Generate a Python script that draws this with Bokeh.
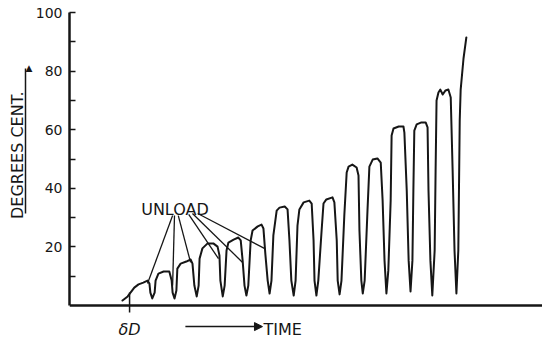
from bokeh.plotting import figure
from bokeh.models import FixedTicker, Label, Arrow, NormalHead, Range1d, LinearAxis
from bokeh.embed import file_html
from bokeh.resources import INLINE

# Temperature trace (time in arbitrary units, temperature in degrees C)
time = [11.2, 12.3, 13.1, 13.7, 14.6, 15.6, 16.5, 16.9, 17.1, 17.5, 18.0, 18.2, 18.8, 19.9, 21.1,
        21.6, 21.8, 22.2, 22.6, 22.8, 23.5, 24.7, 25.6, 26.0, 26.4, 26.9, 27.3, 27.5, 28.1, 29.2,
        30.4, 31.3, 31.7, 31.9, 32.4, 32.8, 33.2, 33.6, 34.7, 35.7, 36.2, 36.6, 37.0, 37.4, 37.8,
        38.3, 38.7, 39.8, 40.6, 41.0, 41.4, 41.9, 42.3, 42.7, 43.1, 43.8, 44.4, 45.5, 46.1, 46.5,
        46.9, 47.4, 47.8, 48.2, 48.6, 49.5, 50.7, 51.2, 51.6, 51.8, 52.2, 52.6, 53.3, 53.7, 54.3,
        55.6, 56.0, 56.5, 56.7, 57.1, 57.5, 58.1, 58.6, 59.0, 59.8, 60.7, 61.1, 61.3, 61.7, 62.0,
        62.4, 63.0, 63.4, 64.1, 65.1, 65.8, 66.2, 66.6, 67.0, 67.4, 67.9, 68.1, 68.5, 69.6, 70.6,
        70.8, 71.3, 71.7, 72.1, 72.5, 72.7, 72.9, 73.4, 74.4, 75.3, 75.7, 75.9, 76.3, 76.7, 77.2,
        77.4, 77.6, 78.0, 78.4, 78.9, 79.5, 80.1, 80.6, 81.0, 81.4, 81.8, 82.2, 82.5, 82.7, 83.3,
        83.9]
temp = [1.7, 3.1, 4.8, 6.1, 7.2, 7.8, 8.5, 7.5, 4.4, 2.4, 4.4, 8.5, 10.9, 11.6, 11.6,
        8.5, 4.4, 2.4, 5.1, 12.6, 14.3, 15.0, 15.7, 14.3, 6.8, 3.1, 6.8, 16.0, 19.5, 21.2,
        21.2, 20.1, 17.1, 8.5, 3.1, 6.8, 18.8, 21.5, 22.5, 23.2, 22.2, 15.4, 6.8, 3.4, 6.8,
        22.2, 25.6, 27.0, 27.6, 26.3, 17.7, 8.5, 4.1, 8.5, 23.9, 32.4, 33.4, 33.8, 32.8, 22.2,
        8.5, 3.4, 8.5, 27.3, 32.8, 35.2, 35.8, 34.8, 22.2, 8.5, 3.4, 8.5, 25.6, 34.8, 36.2,
        36.9, 35.2, 22.2, 8.5, 3.8, 8.5, 30.7, 45.4, 47.4, 48.1, 47.1, 44.4, 25.6, 8.5, 4.1,
        8.5, 32.4, 47.4, 49.8, 50.2, 48.8, 35.8, 15.4, 4.1, 11.9, 35.8, 58.0, 60.4, 61.1, 61.1,
        59.0, 39.2, 15.4, 4.8, 15.4, 39.2, 59.7, 61.8, 62.5, 62.5, 60.8, 39.2, 15.4, 3.4, 18.8,
        46.1, 70.0, 72.7, 73.7, 72.0, 73.4, 73.7, 71.0, 46.1, 18.8, 4.1, 18.8, 63.1, 73.7, 84.3,
        91.5]

# "UNLOAD" leader lines: from label to the curve
unload_x0 = [21.8, 22.2, 23.0, 25.2, 26.0, 27.1]
unload_y0 = [30.7, 30.7, 30.7, 31.1, 31.4, 31.4]
unload_x1 = [16.5, 21.8, 25.6, 31.5, 36.6, 41.2]
unload_y1 = [7.5, 6.8, 14.7, 16.0, 14.7, 19.5]

y_major = [20, 40, 60, 80, 100]
y_minor = [10, 30, 50, 70, 90]

t_delta = 12.7          # time of delta-D mark
arrow_y = (31.4, 80.9)  # extent of the arrow beside the y-axis title
time_arrow = (24.5, 40.8)

INK = "#161616"
FONT = "DejaVu Sans"

p = figure(width=542, height=338, output_backend="svg", toolbar_location=None,
           x_range=Range1d(0, 100), y_range=Range1d(-11.26, 100),
           min_border_left=69, min_border_right=0, min_border_top=12, min_border_bottom=0)
p.outline_line_color = None
p.xgrid.visible = False
p.ygrid.visible = False
p.background_fill_color = "white"
p.border_fill_color = "white"

p.line(time, temp, line_color=INK, line_width=2, line_join="round", line_cap="round")
p.segment(x0=unload_x0, y0=unload_y0, x1=unload_x1, y1=unload_y1, line_color=INK, line_width=1.3)

# delta-D marker crossing the time axis
p.segment(x0=[t_delta], y0=[4.4], x1=[t_delta], y1=[-2.4], line_color=INK, line_width=1.5)

# y axis: ticks and numbers
ya = p.yaxis[0]
ya.ticker = FixedTicker(ticks=y_major, minor_ticks=y_minor)
ya.bounds = (0, 100)
ya.major_tick_in = 6
ya.major_tick_out = 0
ya.minor_tick_in = 6
ya.minor_tick_out = 0
ya.axis_line_width = 2.5
ya.axis_line_color = INK
ya.major_tick_line_color = INK
ya.minor_tick_line_color = INK
ya.major_tick_line_width = 1.5
ya.minor_tick_line_width = 1.5
ya.major_label_text_font = FONT
ya.major_label_text_font_size = "14px"
ya.major_label_text_color = INK
ya.major_label_standoff = 7
ya.axis_label = " "
ya.axis_label_text_font_size = "1px"
ya.axis_label_standoff = 3

# outer y axis: arrow shaft and title
yb = LinearAxis(ticker=FixedTicker(ticks=[arrow_y[1]]), bounds=arrow_y,
                major_label_overrides={arrow_y[1]: "▲"},
                major_label_text_font=FONT, major_label_text_font_size="9px",
                major_label_text_color=INK, major_label_standoff=-7,
                major_tick_in=0, major_tick_out=0, minor_tick_in=0, minor_tick_out=0,
                axis_line_width=1.5, axis_line_color=INK,
                axis_label="\u00a0" * 8 + "DEGREES CENT.", axis_label_text_font=FONT,
                axis_label_text_font_style="normal", axis_label_text_font_size="16px",
                axis_label_text_color=INK, axis_label_standoff=-4)
p.add_layout(yb, "left")

# time axis at zero
xa = p.xaxis[0]
xa.ticker = FixedTicker(ticks=[])
xa.fixed_location = 0
xa.major_tick_out = 0
xa.major_tick_in = 0
xa.axis_line_width = 2.5
xa.axis_line_color = INK
xa.major_label_text_font_size = "0px"

# TIME arrow and labels
p.add_layout(Arrow(x_start=time_arrow[0], y_start=-7.2, x_end=time_arrow[1], y_end=-7.2,
                   line_color=INK, line_width=1.5,
                   end=NormalHead(size=8, fill_color=INK, line_color=INK)))
p.add_layout(Label(x=41.0, y=-8.2, text="TIME", text_font=FONT, text_font_size="16px",
                   text_color=INK, text_align="left", text_baseline="alphabetic"))
p.add_layout(Label(x=t_delta, y=-8.2, text="δD", text_font=FONT, text_font_size="16px",
                   text_font_style="italic", text_color=INK, text_align="center",
                   text_baseline="alphabetic"))
p.add_layout(Label(x=22.3, y=32.8, text="UNLOAD", text_font=FONT, text_font_size="16px",
                   text_color=INK, text_align="center", text_baseline="alphabetic"))

open("out.html", "w").write(file_html(p, INLINE))
